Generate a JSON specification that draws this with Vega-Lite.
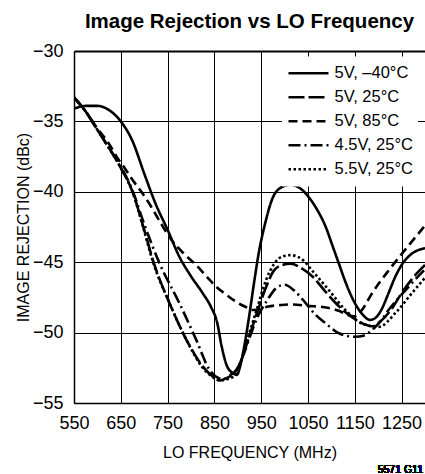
{
  "$schema": "https://vega.github.io/schema/vega-lite/v6.json",
  "width": 351,
  "height": 352,
  "autosize": {"type": "none"},
  "padding": {"left": 74, "top": 51, "right": 0, "bottom": 71},
  "background": "white",
  "title": {"text": "Image Rejection vs LO Frequency", "fontSize": 20.5, "fontWeight": "bold", "anchor": "middle", "frame": "group", "baseline": "alphabetic", "offset": -6, "color": "#000", "font": "Liberation Sans"},
  "config": {
    "font": "Liberation Sans",
    "view": {"stroke": null},
    "axis": {"grid": true, "gridColor": "#000", "gridOpacity": 1, "gridWidth": 1, "domainColor": "#000", "domainWidth": 1.5, "ticks": false, "labelColor": "#000", "labelFontSize": 18, "labelFlush": false, "labelOverlap": false, "titleFontSize": 16, "titleFontWeight": "normal", "titleColor": "#000"}
  },
  "data": {"values": [
    {"s": "5V, –40°C", "f": 550, "v": -34.1},
    {"s": "5V, –40°C", "f": 575, "v": -33.9},
    {"s": "5V, –40°C", "f": 600, "v": -33.9},
    {"s": "5V, –40°C", "f": 625, "v": -34.2},
    {"s": "5V, –40°C", "f": 650, "v": -35.0},
    {"s": "5V, –40°C", "f": 675, "v": -36.4},
    {"s": "5V, –40°C", "f": 700, "v": -38.7},
    {"s": "5V, –40°C", "f": 725, "v": -40.9},
    {"s": "5V, –40°C", "f": 750, "v": -42.7},
    {"s": "5V, –40°C", "f": 775, "v": -44.6},
    {"s": "5V, –40°C", "f": 800, "v": -46.0},
    {"s": "5V, –40°C", "f": 825, "v": -47.2},
    {"s": "5V, –40°C", "f": 843, "v": -48.2},
    {"s": "5V, –40°C", "f": 856, "v": -49.3},
    {"s": "5V, –40°C", "f": 865, "v": -50.9},
    {"s": "5V, –40°C", "f": 876, "v": -52.3},
    {"s": "5V, –40°C", "f": 888, "v": -52.85},
    {"s": "5V, –40°C", "f": 898, "v": -53.0},
    {"s": "5V, –40°C", "f": 905, "v": -52.4},
    {"s": "5V, –40°C", "f": 912, "v": -51.3},
    {"s": "5V, –40°C", "f": 924, "v": -48.9},
    {"s": "5V, –40°C", "f": 935, "v": -46.4},
    {"s": "5V, –40°C", "f": 945, "v": -44.3},
    {"s": "5V, –40°C", "f": 958, "v": -42.3},
    {"s": "5V, –40°C", "f": 975, "v": -40.4},
    {"s": "5V, –40°C", "f": 995, "v": -39.65},
    {"s": "5V, –40°C", "f": 1013, "v": -39.5},
    {"s": "5V, –40°C", "f": 1035, "v": -39.8},
    {"s": "5V, –40°C", "f": 1052, "v": -40.4},
    {"s": "5V, –40°C", "f": 1070, "v": -41.3},
    {"s": "5V, –40°C", "f": 1088, "v": -42.5},
    {"s": "5V, –40°C", "f": 1102, "v": -43.8},
    {"s": "5V, –40°C", "f": 1116, "v": -45.1},
    {"s": "5V, –40°C", "f": 1130, "v": -46.4},
    {"s": "5V, –40°C", "f": 1144, "v": -47.5},
    {"s": "5V, –40°C", "f": 1165, "v": -48.65},
    {"s": "5V, –40°C", "f": 1183, "v": -49.1},
    {"s": "5V, –40°C", "f": 1196, "v": -48.9},
    {"s": "5V, –40°C", "f": 1208, "v": -48.3},
    {"s": "5V, –40°C", "f": 1222, "v": -47.2},
    {"s": "5V, –40°C", "f": 1237, "v": -46.0},
    {"s": "5V, –40°C", "f": 1252, "v": -45.1},
    {"s": "5V, –40°C", "f": 1268, "v": -44.5},
    {"s": "5V, –40°C", "f": 1300, "v": -44.0},

    {"s": "5V, 25°C", "f": 550, "v": -33.3},
    {"s": "5V, 25°C", "f": 575, "v": -34.3},
    {"s": "5V, 25°C", "f": 600, "v": -35.6},
    {"s": "5V, 25°C", "f": 625, "v": -36.9},
    {"s": "5V, 25°C", "f": 650, "v": -38.3},
    {"s": "5V, 25°C", "f": 675, "v": -40.0},
    {"s": "5V, 25°C", "f": 700, "v": -42.7},
    {"s": "5V, 25°C", "f": 720, "v": -45.0},
    {"s": "5V, 25°C", "f": 754, "v": -47.9},
    {"s": "5V, 25°C", "f": 790, "v": -50.5},
    {"s": "5V, 25°C", "f": 825, "v": -52.4},
    {"s": "5V, 25°C", "f": 846, "v": -53.1},
    {"s": "5V, 25°C", "f": 862, "v": -53.4},
    {"s": "5V, 25°C", "f": 878, "v": -53.2},
    {"s": "5V, 25°C", "f": 892, "v": -52.9},
    {"s": "5V, 25°C", "f": 907, "v": -52.0},
    {"s": "5V, 25°C", "f": 924, "v": -50.3},
    {"s": "5V, 25°C", "f": 942, "v": -48.5},
    {"s": "5V, 25°C", "f": 960, "v": -46.8},
    {"s": "5V, 25°C", "f": 977, "v": -45.6},
    {"s": "5V, 25°C", "f": 995, "v": -45.2},
    {"s": "5V, 25°C", "f": 1013, "v": -45.1},
    {"s": "5V, 25°C", "f": 1035, "v": -45.4},
    {"s": "5V, 25°C", "f": 1059, "v": -46.0},
    {"s": "5V, 25°C", "f": 1085, "v": -47.0},
    {"s": "5V, 25°C", "f": 1109, "v": -47.9},
    {"s": "5V, 25°C", "f": 1144, "v": -48.9},
    {"s": "5V, 25°C", "f": 1170, "v": -49.4},
    {"s": "5V, 25°C", "f": 1187, "v": -49.55},
    {"s": "5V, 25°C", "f": 1205, "v": -49.2},
    {"s": "5V, 25°C", "f": 1229, "v": -48.3},
    {"s": "5V, 25°C", "f": 1250, "v": -47.2},
    {"s": "5V, 25°C", "f": 1272, "v": -46.2},
    {"s": "5V, 25°C", "f": 1300, "v": -45.2},

    {"s": "5V, 85°C", "f": 550, "v": -33.3},
    {"s": "5V, 85°C", "f": 575, "v": -34.3},
    {"s": "5V, 85°C", "f": 600, "v": -35.5},
    {"s": "5V, 85°C", "f": 625, "v": -36.6},
    {"s": "5V, 85°C", "f": 641, "v": -37.5},
    {"s": "5V, 85°C", "f": 660, "v": -38.4},
    {"s": "5V, 85°C", "f": 676, "v": -39.2},
    {"s": "5V, 85°C", "f": 694, "v": -40.0},
    {"s": "5V, 85°C", "f": 712, "v": -40.9},
    {"s": "5V, 85°C", "f": 735, "v": -42.2},
    {"s": "5V, 85°C", "f": 758, "v": -43.4},
    {"s": "5V, 85°C", "f": 785, "v": -44.4},
    {"s": "5V, 85°C", "f": 811, "v": -45.2},
    {"s": "5V, 85°C", "f": 833, "v": -46.0},
    {"s": "5V, 85°C", "f": 854, "v": -46.75},
    {"s": "5V, 85°C", "f": 871, "v": -47.2},
    {"s": "5V, 85°C", "f": 896, "v": -47.8},
    {"s": "5V, 85°C", "f": 915, "v": -48.15},
    {"s": "5V, 85°C", "f": 935, "v": -48.4},
    {"s": "5V, 85°C", "f": 950, "v": -48.3},
    {"s": "5V, 85°C", "f": 965, "v": -48.15},
    {"s": "5V, 85°C", "f": 990, "v": -48.05},
    {"s": "5V, 85°C", "f": 1013, "v": -48.0},
    {"s": "5V, 85°C", "f": 1050, "v": -48.1},
    {"s": "5V, 85°C", "f": 1085, "v": -48.2},
    {"s": "5V, 85°C", "f": 1116, "v": -48.45},
    {"s": "5V, 85°C", "f": 1135, "v": -48.75},
    {"s": "5V, 85°C", "f": 1150, "v": -48.85},
    {"s": "5V, 85°C", "f": 1165, "v": -48.4},
    {"s": "5V, 85°C", "f": 1187, "v": -47.2},
    {"s": "5V, 85°C", "f": 1222, "v": -45.6},
    {"s": "5V, 85°C", "f": 1258, "v": -44.1},
    {"s": "5V, 85°C", "f": 1300, "v": -42.4},

    {"s": "4.5V, 25°C", "f": 550, "v": -33.3},
    {"s": "4.5V, 25°C", "f": 575, "v": -34.3},
    {"s": "4.5V, 25°C", "f": 600, "v": -35.6},
    {"s": "4.5V, 25°C", "f": 625, "v": -36.9},
    {"s": "4.5V, 25°C", "f": 650, "v": -38.2},
    {"s": "4.5V, 25°C", "f": 675, "v": -39.9},
    {"s": "4.5V, 25°C", "f": 700, "v": -42.3},
    {"s": "4.5V, 25°C", "f": 733, "v": -45.1},
    {"s": "4.5V, 25°C", "f": 775, "v": -47.9},
    {"s": "4.5V, 25°C", "f": 811, "v": -50.5},
    {"s": "4.5V, 25°C", "f": 839, "v": -52.6},
    {"s": "4.5V, 25°C", "f": 854, "v": -53.15},
    {"s": "4.5V, 25°C", "f": 868, "v": -53.3},
    {"s": "4.5V, 25°C", "f": 885, "v": -53.0},
    {"s": "4.5V, 25°C", "f": 900, "v": -52.5},
    {"s": "4.5V, 25°C", "f": 914, "v": -51.4},
    {"s": "4.5V, 25°C", "f": 928, "v": -50.1},
    {"s": "4.5V, 25°C", "f": 942, "v": -48.9},
    {"s": "4.5V, 25°C", "f": 963, "v": -47.7},
    {"s": "4.5V, 25°C", "f": 980, "v": -46.9},
    {"s": "4.5V, 25°C", "f": 1000, "v": -46.6},
    {"s": "4.5V, 25°C", "f": 1020, "v": -47.0},
    {"s": "4.5V, 25°C", "f": 1045, "v": -47.9},
    {"s": "4.5V, 25°C", "f": 1065, "v": -48.7},
    {"s": "4.5V, 25°C", "f": 1088, "v": -49.35},
    {"s": "4.5V, 25°C", "f": 1116, "v": -50.05},
    {"s": "4.5V, 25°C", "f": 1151, "v": -50.3},
    {"s": "4.5V, 25°C", "f": 1170, "v": -50.2},
    {"s": "4.5V, 25°C", "f": 1187, "v": -49.8},
    {"s": "4.5V, 25°C", "f": 1205, "v": -49.2},
    {"s": "4.5V, 25°C", "f": 1222, "v": -48.4},
    {"s": "4.5V, 25°C", "f": 1258, "v": -47.0},
    {"s": "4.5V, 25°C", "f": 1300, "v": -45.5},

    {"s": "5.5V, 25°C", "f": 550, "v": -33.3},
    {"s": "5.5V, 25°C", "f": 575, "v": -34.3},
    {"s": "5.5V, 25°C", "f": 600, "v": -35.6},
    {"s": "5.5V, 25°C", "f": 625, "v": -36.9},
    {"s": "5.5V, 25°C", "f": 650, "v": -38.3},
    {"s": "5.5V, 25°C", "f": 675, "v": -40.0},
    {"s": "5.5V, 25°C", "f": 700, "v": -42.8},
    {"s": "5.5V, 25°C", "f": 720, "v": -45.1},
    {"s": "5.5V, 25°C", "f": 754, "v": -47.9},
    {"s": "5.5V, 25°C", "f": 790, "v": -50.5},
    {"s": "5.5V, 25°C", "f": 825, "v": -52.5},
    {"s": "5.5V, 25°C", "f": 846, "v": -53.15},
    {"s": "5.5V, 25°C", "f": 862, "v": -53.4},
    {"s": "5.5V, 25°C", "f": 878, "v": -53.3},
    {"s": "5.5V, 25°C", "f": 892, "v": -53.1},
    {"s": "5.5V, 25°C", "f": 907, "v": -52.0},
    {"s": "5.5V, 25°C", "f": 924, "v": -50.1},
    {"s": "5.5V, 25°C", "f": 942, "v": -48.2},
    {"s": "5.5V, 25°C", "f": 960, "v": -46.3},
    {"s": "5.5V, 25°C", "f": 978, "v": -45.1},
    {"s": "5.5V, 25°C", "f": 995, "v": -44.6},
    {"s": "5.5V, 25°C", "f": 1013, "v": -44.5},
    {"s": "5.5V, 25°C", "f": 1041, "v": -44.9},
    {"s": "5.5V, 25°C", "f": 1059, "v": -45.6},
    {"s": "5.5V, 25°C", "f": 1095, "v": -47.0},
    {"s": "5.5V, 25°C", "f": 1130, "v": -48.4},
    {"s": "5.5V, 25°C", "f": 1165, "v": -49.35},
    {"s": "5.5V, 25°C", "f": 1201, "v": -49.6},
    {"s": "5.5V, 25°C", "f": 1237, "v": -48.6},
    {"s": "5.5V, 25°C", "f": 1272, "v": -47.2},
    {"s": "5.5V, 25°C", "f": 1300, "v": -46.1}
  ]},
  "layer": [
    {
      "mark": {"type": "line", "color": "#000", "strokeWidth": 2.6, "interpolate": "monotone", "clip": true},
      "encoding": {
        "x": {"field": "f", "type": "quantitative", "scale": {"domain": [550, 1300], "nice": false, "zero": false},
          "axis": {"values": [550, 650, 750, 850, 950, 1050, 1150, 1250], "format": "d", "title": "LO FREQUENCY (MHz)", "labelBaseline": "alphabetic", "labelPadding": 25, "titleY": 54, "titleBaseline": "alphabetic", "domainWidth": 1.5}},
        "y": {"field": "v", "type": "quantitative", "scale": {"domain": [-55, -30], "nice": false, "zero": false},
          "axis": {"values": [-55, -50, -45, -40, -35, -30], "title": "IMAGE REJECTION (dBc)", "labelPadding": 11, "titleX": -46, "titleBaseline": "alphabetic",
            "gridWidth": {"condition": {"test": "datum.value === -30", "value": 2}, "value": 1}}},
        "strokeDash": {"field": "s", "type": "nominal",
          "scale": {"domain": ["5V, –40°C", "5V, 25°C", "5V, 85°C", "4.5V, 25°C", "5.5V, 25°C"],
                    "range": [[1, 0], [16, 4], [9, 5], [12, 4, 2, 4], [2.5, 2.5]]},
          "legend": {"title": null, "orient": "none", "legendX": 208, "legendY": 5.5, "padding": 5, "fillColor": "white",
            "symbolType": "stroke", "symbolSize": 1600, "symbolStrokeWidth": 2.5, "symbolStrokeColor": "#000",
            "clipHeight": 23.5, "rowPadding": 0, "labelOffset": 4.5, "labelFontSize": 16.5, "labelColor": "#000", "labelFont": "Liberation Sans"}}
      }
    },
    {
      "mark": {"type": "text", "text": "5571 G11", "align": "right", "baseline": "alphabetic", "fontSize": 10.5, "fontWeight": "normal", "font": "Liberation Sans", "dy": 70, "dx": -2, "color": "#000"},
      "encoding": {"x": {"datum": 1300}, "y": {"datum": -55}}
    }
  ]
}
